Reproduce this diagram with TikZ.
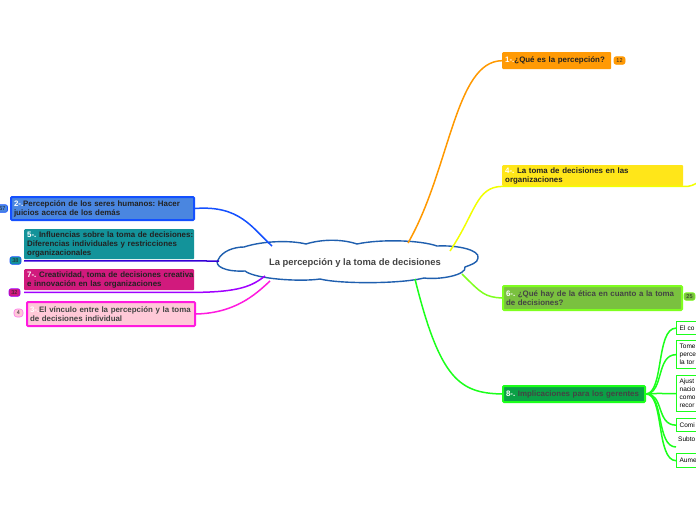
\documentclass[tikz,border=0pt]{standalone}
\usepackage{fontspec}
\setmainfont{Liberation Sans}
\frenchspacing
\newcommand\nbl[1]{\mbox{#1}}
\definecolor{cOrange}{HTML}{FF9900}
\definecolor{cOrangeBox}{HTML}{FF9A05}
\definecolor{cYellow}{HTML}{FFE619}
\definecolor{cYellowLine}{HTML}{F2FF00}
\definecolor{cGsixfill}{HTML}{7AC13F}
\definecolor{cGsixline}{HTML}{7FFF1F}
\definecolor{cGeightfill}{HTML}{0BA046}
\definecolor{cGeightline}{HTML}{1BFF1B}
\definecolor{cBlueFill}{HTML}{4A86E0}
\definecolor{cBlueLine}{HTML}{1450FF}
\definecolor{cTeal}{HTML}{13939A}
\definecolor{cIndigo}{HTML}{3500D6}
\definecolor{cMag}{HTML}{D11A7D}
\definecolor{cPurple}{HTML}{A000FF}
\definecolor{cPinkFill}{HTML}{FFC9D8}
\definecolor{cPinkLine}{HTML}{FF1ADF}
\definecolor{cCloud}{HTML}{1F5FAF}
\definecolor{cText}{HTML}{222222}
\definecolor{cGray}{HTML}{444444}
\tikzset{
  box/.style={rectangle, anchor=north west, rounded corners=1pt, inner xsep=3pt, inner ysep=0pt,
    align=left, font=\fontsize{7.9}{9}\selectfont\bfseries, text=cText},
  badge/.style={rectangle, rounded corners=2pt, inner sep=0pt, minimum width=11pt, minimum height=7.5pt,
    font=\fontsize{5.5}{6}\selectfont, text=cText, line width=0.6pt},
  kid/.style={rectangle, anchor=north west, draw=cGeightline, line width=1.3pt, fill=white,
    inner xsep=3pt, inner ysep=0pt, align=left, font=\fontsize{6.5}{8}\selectfont, text=black},
  link/.style={line width=1.5pt}
}
\begin{document}
\begin{tikzpicture}[x=1pt,y=-1pt]
\useasboundingbox (0,0) rectangle (696,520);
\fill[white] (0,0) rectangle (696,520);
\clip (0,0) rectangle (696,520);

% cloud
\draw[cCloud, line width=1.4pt, fill=white]
  (218,260) .. controls (222,251) and (234,247) .. (244,247)
  .. controls (262,241) and (290,240) .. (306,244)
  .. controls (322,239) and (342,239) .. (357,244)
  .. controls (380,239) and (420,240) .. (437,246)
  .. controls (458,245) and (480,250) .. (478,258)
  .. controls (478,263) and (470,265) .. (465,267)
  .. controls (467,275) and (440,280) .. (424,278)
  .. controls (400,284) and (340,284) .. (320,279)
  .. controls (300,282) and (255,279) .. (245,271)
  .. controls (225,272) and (214,266) .. (218,260) -- cycle;
\node[font=\fontsize{9.4}{11}\selectfont\bfseries, text=cGray] (center) at (355,263) {La percepción y la toma de decisiones};

% cloud anchor coordinates
\coordinate (a1) at (408,243);
\coordinate (a4) at (450,251);
\coordinate (a6) at (462,274);
\coordinate (a8) at (415,279);
\coordinate (a2) at (272,246);
\coordinate (a5) at (219,261);
\coordinate (a7) at (265,276);
\coordinate (a3) at (270,281);
\coordinate (e4) at (700,181);

% right nodes
\node[box, fill=cOrangeBox, text width=103pt, minimum height=17pt] (n1) at (502,52) {\nbl{\textcolor{white}{1-.}¿Qué es la percepción?}};
\node[box, fill=cYellow, text width=175pt, minimum height=21pt] (n4) at (502,165) {\nbl{\textcolor{white}{4-.} La toma de decisiones en las}\\\nbl{organizaciones}};
\node[box, fill=cGsixfill, draw=cGsixline, line width=2pt, text width=173pt, minimum height=24pt, text=cGray] (n6) at (502,285) {\nbl{\textcolor{white}{6-.} ¿Qué hay de la ética en cuanto a la toma}\\\nbl{de decisiones?}};
\node[box, fill=cGeightfill, draw=cGeightline, line width=2pt, text width=136pt, minimum height=16pt, text=cGray] (n8) at (502,385) {\nbl{\textcolor{white}{8-.} Implicaciones para los gerentes}};

% left nodes
\node[box, fill=cBlueFill, draw=cBlueLine, line width=2pt, text width=177pt, minimum height=23pt] (n2) at (10,196) {\nbl{\textcolor{white}{2-.}Percepción de los seres humanos: Hacer}\\\nbl{juicios acerca de los demás}};
\node[box, fill=cTeal, text width=164pt, minimum height=30pt] (n5) at (24,229) {\nbl{\textcolor{white}{5-.} Influencias sobre la toma de decisiones:}\\\nbl{Diferencias individuales y restricciones}\\\nbl{organizacionales}};
\node[box, fill=cMag, text width=164pt, minimum height=21pt] (n7) at (24,269) {\nbl{\textcolor{white}{7-.} Creatividad, toma de decisiones creativa}\\\nbl{e innovación en las organizaciones}};
\node[box, fill=cPinkFill, draw=cPinkLine, line width=2pt, text width=162pt, minimum height=24pt, text=cGray] (n3) at (26,301) {\nbl{\textcolor{white}{3-.}El vínculo entre la percepción y la toma}\\\nbl{de decisiones individual}};

% children of 8
\node[kid, text width=40pt, minimum height=13pt] (k1) at (676,321) {El co};
\node[kid, text width=40pt, minimum height=28pt] (k2) at (676,340) {Tome\\perce\\la tor};
\node[kid, text width=40pt, minimum height=36pt] (k3) at (676,375) {Ajust\\nacio\\como\\recor};
\node[kid, text width=40pt, minimum height=13pt] (k4) at (676,418) {Comi};
\node[anchor=north west, inner xsep=2pt, inner ysep=0pt, font=\fontsize{6.5}{8}\selectfont, text=black] (k5) at (676,437) {Subto};
\coordinate (k5a) at (676,447);
\node[kid, text width=40pt, minimum height=14pt] (k6) at (676,453) {Aume};

% connectors
\draw[link, cOrange] (a1) .. controls (450,170) and (455,61) .. (n1.west);
\draw[link, cYellowLine] (a4) .. controls (476,212) and (476,187) .. (n4.south west) -- (n4.south east) .. controls (690,187) and (694,185) .. (e4);
\draw[link, cGsixline] (a6) .. controls (482,294) and (485,297) .. (n6.west);
\draw[link, cGeightline] (a8) .. controls (440,380) and (460,393) .. (n8.west);
\draw[link, cBlueLine] (n2.east) .. controls (240,205) and (252,228) .. (a2);
\draw[link, cIndigo] ([yshift=-1.5pt]n5.south west) -- (a5);
\draw[link, cPurple] ([yshift=-2pt]n7.south west) -- ([yshift=-2pt]n7.south east) .. controls (240,292) and (252,286) .. (a7);
\draw[link, cPinkLine] (n3.east) .. controls (235,313) and (255,295) .. (a3);
\foreach \k in {k1,k2,k3,k4,k6} {
  \draw[link, cGeightline] (n8.east) .. controls (664,393) and (656,0 |- \k.west) .. (\k.west);
}
\draw[link, cGeightline] (n8.east) .. controls (664,393) and (656,447) .. (k5a);

% badges
\node[badge, fill=cOrangeBox, draw=cOrange] (b1) at (619.5,60.5) {12};
\node[badge, fill=cGsixfill, draw=cGsixline] (b6) at (689.5,296.5) {25};
\node[badge, fill=cBlueFill, draw=cBlueLine, minimum width=10pt] (b2) at (2.5,208.5) {57};
\node[badge, fill=cTeal, draw=cBlueLine] (b5) at (15.5,260.5) {38};
\node[badge, fill=cMag, draw=cPurple] (b7) at (14.5,292.5) {32};
\node[badge, fill=cPinkFill, draw=cPinkLine!60, minimum width=9pt, minimum height=8pt, rounded corners=3pt] (b3) at (18.5,313) {4};
\end{tikzpicture}
\end{document}
